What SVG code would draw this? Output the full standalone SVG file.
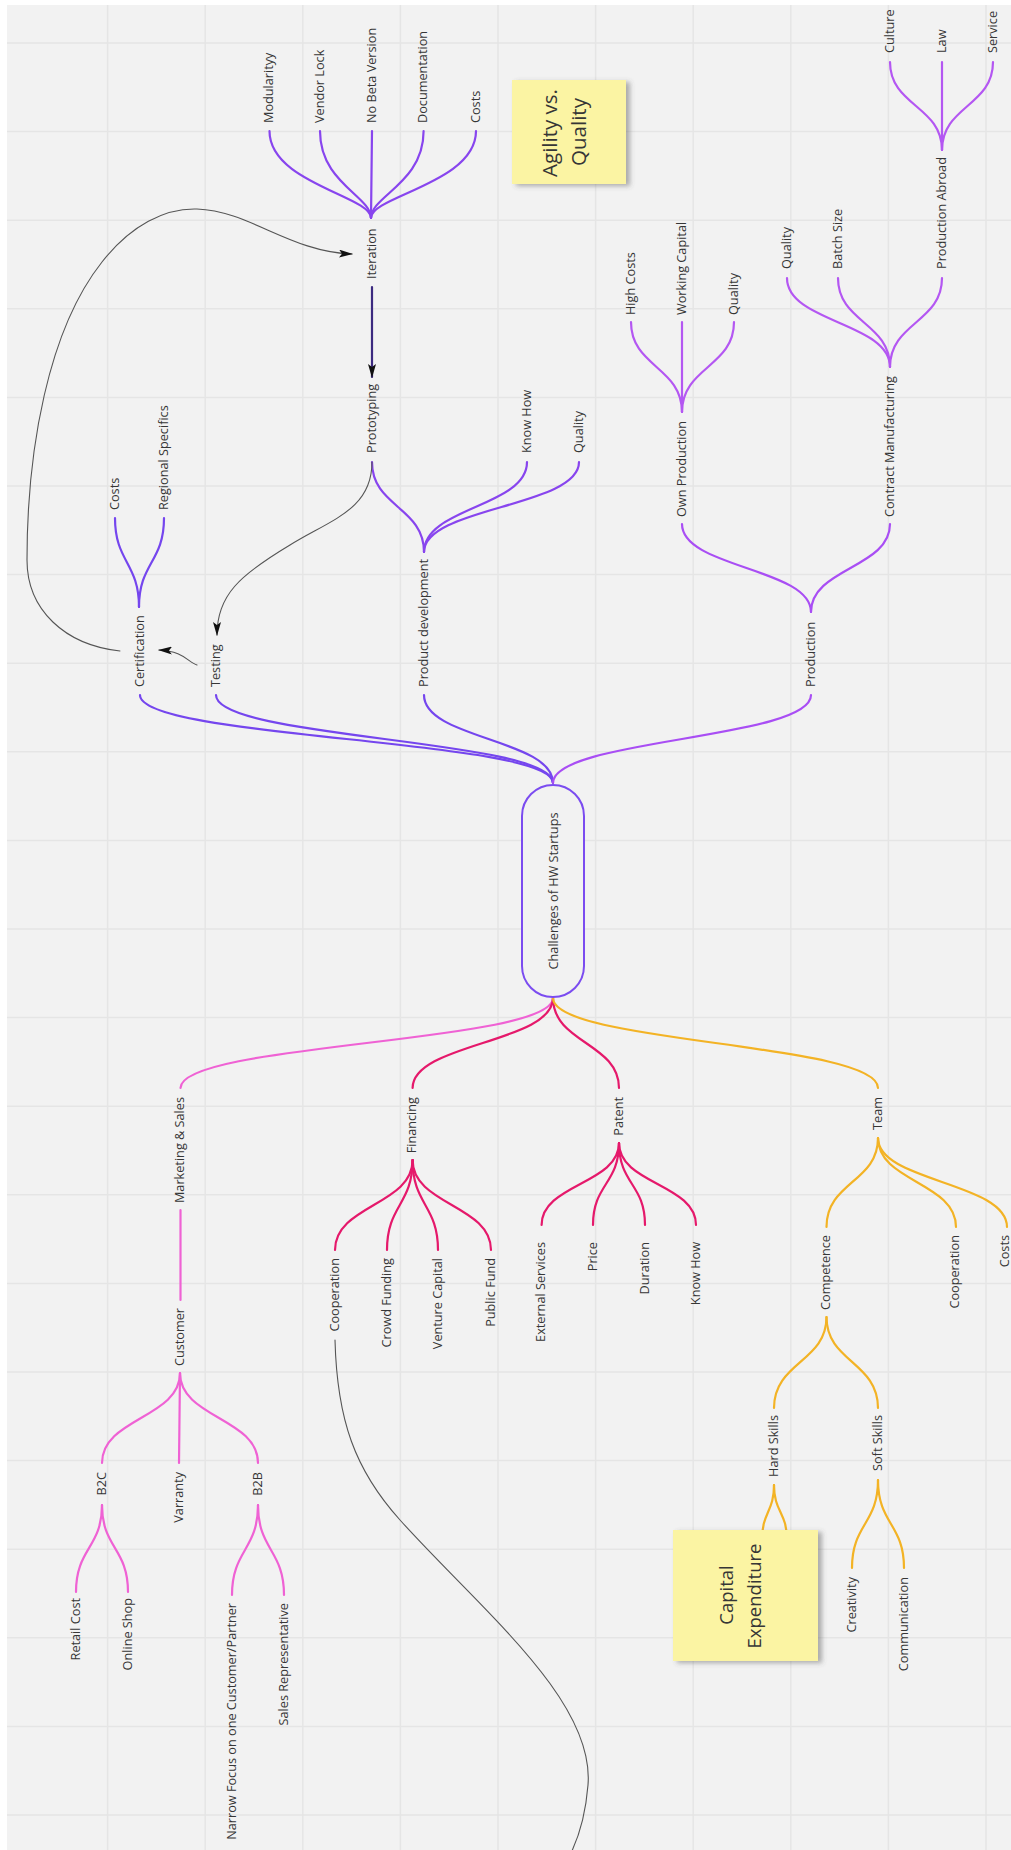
<svg xmlns="http://www.w3.org/2000/svg" width="1011" height="1850" viewBox="0 0 1011 1850">
<style>
text{font-family:"Open Sans","Liberation Sans",sans-serif;fill:#363636;}
.l{font-size:12.7px;}
.e{font-size:12.7px;text-anchor:end;}
.c{text-anchor:middle;}
.grid line{stroke:#e5e5e5;stroke-width:1.5;}
.cn path{fill:none;stroke-width:2.2;stroke-linecap:round;}
.v1 path{stroke:#8845ee;}
.v2 path{stroke:#7546ee;}
.v3 path{stroke:#a94ef4;}
.v4 path{stroke:#b457f2;}
.pk path{stroke:#ef62d4;}
.rd path{stroke:#e5196b;}
.yl path{stroke:#f3b325;}
.cn path.bk{fill:none;stroke:#555;stroke-width:1.1;}
.note{fill:#fbf4a3;}
</style>
<defs>
<marker id="ah" markerUnits="userSpaceOnUse" markerWidth="14" markerHeight="8" refX="13" refY="4" orient="auto">
<path d="M0,0 L14,4 L0,8 L3,4 z" fill="#111"/>
</marker>
<filter id="sh" x="-20%" y="-20%" width="150%" height="150%">
<feDropShadow dx="4" dy="2" stdDeviation="2.5" flood-color="#555" flood-opacity="0.45"/>
</filter>
</defs>
<rect width="1011" height="1850" fill="#ffffff"/>
<rect x="7" y="5" width="1004" height="1845" fill="#f2f2f2"/>
<g class="grid">
<line x1="107.6" y1="5" x2="107.6" y2="1850"/>
<line x1="205.2" y1="5" x2="205.2" y2="1850"/>
<line x1="302.8" y1="5" x2="302.8" y2="1850"/>
<line x1="400.4" y1="5" x2="400.4" y2="1850"/>
<line x1="498" y1="5" x2="498" y2="1850"/>
<line x1="595.6" y1="5" x2="595.6" y2="1850"/>
<line x1="693.2" y1="5" x2="693.2" y2="1850"/>
<line x1="790.8" y1="5" x2="790.8" y2="1850"/>
<line x1="888.4" y1="5" x2="888.4" y2="1850"/>
<line x1="986" y1="5" x2="986" y2="1850"/>
<line x1="7" y1="43" x2="1011" y2="43"/>
<line x1="7" y1="131.6" x2="1011" y2="131.6"/>
<line x1="7" y1="220.2" x2="1011" y2="220.2"/>
<line x1="7" y1="308.8" x2="1011" y2="308.8"/>
<line x1="7" y1="397.4" x2="1011" y2="397.4"/>
<line x1="7" y1="486" x2="1011" y2="486"/>
<line x1="7" y1="574.6" x2="1011" y2="574.6"/>
<line x1="7" y1="663.2" x2="1011" y2="663.2"/>
<line x1="7" y1="751.8" x2="1011" y2="751.8"/>
<line x1="7" y1="840.4" x2="1011" y2="840.4"/>
<line x1="7" y1="929" x2="1011" y2="929"/>
<line x1="7" y1="1017.6" x2="1011" y2="1017.6"/>
<line x1="7" y1="1106.2" x2="1011" y2="1106.2"/>
<line x1="7" y1="1194.8" x2="1011" y2="1194.8"/>
<line x1="7" y1="1283.4" x2="1011" y2="1283.4"/>
<line x1="7" y1="1372" x2="1011" y2="1372"/>
<line x1="7" y1="1460.6" x2="1011" y2="1460.6"/>
<line x1="7" y1="1549.2" x2="1011" y2="1549.2"/>
<line x1="7" y1="1637.8" x2="1011" y2="1637.8"/>
<line x1="7" y1="1726.4" x2="1011" y2="1726.4"/>
<line x1="7" y1="1815" x2="1011" y2="1815"/>
</g>
<g id="connectors" class="cn">
<g class="v1">
<path d="M269.5 131 C269.5 183 371 196 371 218"/>
<path d="M320 131 C320 183 371 196 371 218"/>
<path d="M372 131 L371 218"/>
<path d="M423.6 131 C423.6 183 371 196 371 218"/>
<path d="M476 131 C476 183 371 196 371 218"/>
<path d="M372 462 C372 507 424 507 424 552"/>
<path d="M527 462 C527 507 424 507 424 552"/>
<path d="M579 462 C579 507 424 507 424 552"/>
</g>
<g class="v2">
<path d="M115 518 C115 562 139 563 139 607"/>
<path d="M164 518 C164 562 139 563 139 607"/>
<path d="M140 695 C140 739 553 739 553 783"/>
<path d="M216 695 C216 739 553 739 553 783"/>
<path d="M424 695 C424 739 553 739 553 783"/>
</g>
<g class="v3">
<path d="M811 695 C811 739 553 739 553 783"/>
<path d="M682 524 C682 568 811 568 811 612"/>
<path d="M890 524 C890 568 811 568 811 612"/>
</g>
<g class="v4">
<path d="M631 322 C631 367 682 367 682 412"/>
<path d="M682 322 L682 412"/>
<path d="M734 322 C734 367 682 367 682 412"/>
<path d="M787 278 C787 322.5 890 322.5 890 367"/>
<path d="M838 278 C838 322.5 890 322.5 890 367"/>
<path d="M942 278 C942 322.5 890 322.5 890 367"/>
<path d="M890 62 C890 106 942 106 942 150"/>
<path d="M942 62 L942 150"/>
<path d="M993 62 C993 106 942 106 942 150"/>
</g>
<path d="M372 287 L372 377" style="stroke:#3c2a80" marker-end="url(#ah)"/>
<g class="pk">
<path d="M553 998 C553 1043 180.5 1043 180.5 1088"/>
<path d="M180.5 1210 L180.5 1300"/>
<path d="M180 1373 C180 1418 102 1418 102 1463"/>
<path d="M180 1373 L179 1463"/>
<path d="M180 1373 C180 1418 258 1418 258 1463"/>
<path d="M102 1505 C102 1548 76 1548 76 1592"/>
<path d="M102 1505 C102 1548 128 1548 128 1592"/>
<path d="M258 1505 C258 1550 232 1550 232 1595"/>
<path d="M258 1505 C258 1550 284 1550 284 1595"/>
</g>
<g class="rd">
<path d="M553 998 C553 1043 412.6 1043 412.6 1088"/>
<path d="M553 998 C553 1043 619 1043 619 1088"/>
<path d="M412.6 1160 C412.6 1205 335 1205 335 1250"/>
<path d="M412.6 1160 C412.6 1205 387 1205 387 1250"/>
<path d="M412.6 1160 C412.6 1205 438 1205 438 1250"/>
<path d="M412.6 1160 C412.6 1205 491 1205 491 1250"/>
<path d="M619 1143 C619 1184 541.6 1184 541.6 1225"/>
<path d="M619 1143 C619 1184 593 1184 593 1225"/>
<path d="M619 1143 C619 1184 645 1184 645 1225"/>
<path d="M619 1143 C619 1184 696 1184 696 1225"/>
</g>
<g class="yl">
<path d="M553 998 C553 1043 878 1043 878 1088"/>
<path d="M878 1138 C878 1182 826.5 1182 826.5 1227"/>
<path d="M878 1138 C878 1182 956 1182 956 1227"/>
<path d="M878 1138 C878 1182 1007 1182 1007 1227"/>
<path d="M826.5 1317 C826.5 1362 774 1362 774 1408"/>
<path d="M826.5 1317 C826.5 1362 878 1362 878 1408"/>
<path d="M774 1485 C774 1512 762 1512 762 1540"/>
<path d="M774 1485 C774 1512 787 1512 787 1540"/>
<path d="M878 1480 C878 1524 852 1524 852 1568"/>
<path d="M878 1480 C878 1524 904 1524 904 1568"/>
</g>
<path class="bk" d="M120 651 C65 645 27 610 27 560 C27 450 48 330 102 262 C131 225 165 208 197 209 C250 211 290 252 352 254" marker-end="url(#ah)"/>
<path class="bk" d="M372 462 C372 510 330 520 290 545 C240 575 217 595 217 635" marker-end="url(#ah)"/>
<path class="bk" d="M197 665 C188 662 183 651 159 650" marker-end="url(#ah)"/>
<path class="bk" d="M335 1340 C337 1420 355 1470 400 1520 C480 1609 595 1700 588 1785 C586 1810 580 1835 570 1855"/>
</g>
<g id="root">
<rect x="522" y="785" width="62" height="212" rx="31" fill="#f2f2f2" stroke="#7b4cf0" stroke-width="2"/>
<text class="l c" transform="translate(557.5,891) rotate(-90)">Challenges of HW Startups</text>
</g>
<g id="n-modularity"><text class="l" transform="translate(273,123) rotate(-90)">Modularityy</text></g>
<g id="n-vendor"><text class="l" transform="translate(323.5,123) rotate(-90)">Vendor Lock</text></g>
<g id="n-nobeta"><text class="l" transform="translate(375.5,123) rotate(-90)">No Beta Version</text></g>
<g id="n-doc"><text class="l" transform="translate(427,123) rotate(-90)">Documentation</text></g>
<g id="n-costs1"><text class="l" transform="translate(479.5,123) rotate(-90)">Costs</text></g>
<g id="n-iteration"><text class="l" transform="translate(375.5,279) rotate(-90)">Iteration</text></g>
<g id="n-prototyping"><text class="l" transform="translate(375.5,453) rotate(-90)">Prototyping</text></g>
<g id="n-knowhow1"><text class="l" transform="translate(530.5,453) rotate(-90)">Know How</text></g>
<g id="n-quality1"><text class="l" transform="translate(582.5,453) rotate(-90)">Quality</text></g>
<g id="n-costs2"><text class="l" transform="translate(118.5,510) rotate(-90)">Costs</text></g>
<g id="n-regional"><text class="l" transform="translate(167.5,510) rotate(-90)">Regional Specifics</text></g>
<g id="n-cert"><text class="l" transform="translate(143.5,687) rotate(-90)">Certification</text></g>
<g id="n-testing"><text class="l" transform="translate(219.5,687) rotate(-90)">Testing</text></g>
<g id="n-proddev"><text class="l" transform="translate(427.5,687) rotate(-90)">Product development</text></g>
<g id="n-production"><text class="l" transform="translate(814.5,687) rotate(-90)">Production</text></g>
<g id="n-ownprod"><text class="l" transform="translate(685.5,517) rotate(-90)">Own Production</text></g>
<g id="n-contract"><text class="l" transform="translate(893.5,517) rotate(-90)">Contract Manufacturing</text></g>
<g id="n-highcosts"><text class="l" transform="translate(634.5,315) rotate(-90)">High Costs</text></g>
<g id="n-working"><text class="l" transform="translate(685.5,315) rotate(-90)">Working Capital</text></g>
<g id="n-quality2"><text class="l" transform="translate(737.5,315) rotate(-90)">Quality</text></g>
<g id="n-quality3"><text class="l" transform="translate(790.5,269) rotate(-90)">Quality</text></g>
<g id="n-batch"><text class="l" transform="translate(841.5,269) rotate(-90)">Batch Size</text></g>
<g id="n-abroad"><text class="l" transform="translate(945.5,269) rotate(-90)">Production Abroad</text></g>
<g id="n-culture"><text class="l" transform="translate(893.5,53) rotate(-90)">Culture</text></g>
<g id="n-law"><text class="l" transform="translate(945.5,53) rotate(-90)">Law</text></g>
<g id="n-service"><text class="l" transform="translate(996.5,53) rotate(-90)">Service</text></g>
<g id="n-marketing"><text class="e" transform="translate(184,1097) rotate(-90)">Marketing &amp; Sales</text></g>
<g id="n-financing"><text class="e" transform="translate(416,1097) rotate(-90)">Financing</text></g>
<g id="n-patent"><text class="e" transform="translate(622.5,1097) rotate(-90)">Patent</text></g>
<g id="n-team"><text class="e" transform="translate(881.5,1097) rotate(-90)">Team</text></g>
<g id="n-customer"><text class="e" transform="translate(183.5,1308) rotate(-90)">Customer</text></g>
<g id="n-b2c"><text class="e" transform="translate(105.5,1472) rotate(-90)">B2C</text></g>
<g id="n-varranty"><text class="e" transform="translate(182.5,1472) rotate(-90)">Varranty</text></g>
<g id="n-b2b"><text class="e" transform="translate(261.5,1472) rotate(-90)">B2B</text></g>
<g id="n-retail"><text class="e" transform="translate(79.5,1598) rotate(-90)">Retail Cost</text></g>
<g id="n-online"><text class="e" transform="translate(131.5,1598) rotate(-90)">Online Shop</text></g>
<g id="n-narrow"><text class="e" transform="translate(235.5,1603) rotate(-90)">Narrow Focus on one Customer/Partner</text></g>
<g id="n-salesrep"><text class="e" transform="translate(287.5,1603) rotate(-90)">Sales Representative</text></g>
<g id="n-coop1"><text class="e" transform="translate(338.5,1258) rotate(-90)">Cooperation</text></g>
<g id="n-crowd"><text class="e" transform="translate(390.5,1258) rotate(-90)">Crowd Funding</text></g>
<g id="n-venture"><text class="e" transform="translate(441.5,1258) rotate(-90)">Venture Capital</text></g>
<g id="n-public"><text class="e" transform="translate(494.5,1258) rotate(-90)">Public Fund</text></g>
<g id="n-external"><text class="e" transform="translate(545,1242) rotate(-90)">External Services</text></g>
<g id="n-price"><text class="e" transform="translate(596.5,1242) rotate(-90)">Price</text></g>
<g id="n-duration"><text class="e" transform="translate(648.5,1242) rotate(-90)">Duration</text></g>
<g id="n-knowhow2"><text class="e" transform="translate(699.5,1242) rotate(-90)">Know How</text></g>
<g id="n-competence"><text class="e" transform="translate(830,1235) rotate(-90)">Competence</text></g>
<g id="n-coop2"><text class="e" transform="translate(959,1235) rotate(-90)">Cooperation</text></g>
<g id="n-costs3"><text class="e" transform="translate(1009,1235) rotate(-90)">Costs</text></g>
<g id="n-hard"><text class="e" transform="translate(777.5,1415) rotate(-90)">Hard Skills</text></g>
<g id="n-soft"><text class="e" transform="translate(881.5,1415) rotate(-90)">Soft Skills</text></g>
<g id="n-creativity"><text class="e" transform="translate(855.5,1577) rotate(-90)">Creativity</text></g>
<g id="n-communication"><text class="e" transform="translate(907.5,1577) rotate(-90)">Communication</text></g>
<g id="note-agility">
<rect class="note" x="512" y="80" width="114" height="104" filter="url(#sh)"/>
<text class="c" style="font-size:20.5px" transform="translate(557,133) rotate(-90)">Agility vs.</text>
<text class="c" style="font-size:20.5px" transform="translate(586,132) rotate(-90)">Quality</text>
</g>
<g id="note-capex">
<rect class="note" x="673" y="1530" width="145" height="131" filter="url(#sh)"/>
<text class="c" style="font-size:18.5px" transform="translate(733,1595) rotate(-90)">Capital</text>
<text class="c" style="font-size:18.5px" transform="translate(761,1596) rotate(-90)">Expenditure</text>
</g>
</svg>
